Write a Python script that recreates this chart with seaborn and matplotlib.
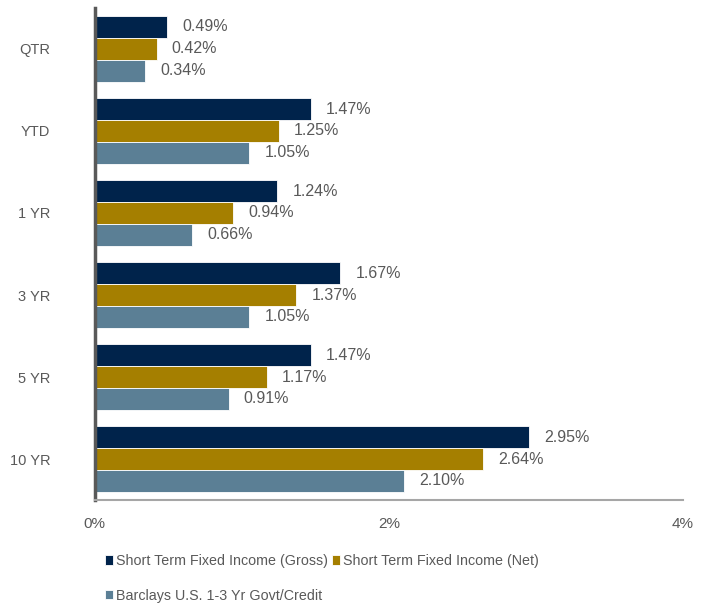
import numpy as np
import pandas as pd
import matplotlib
matplotlib.use('Agg')
import matplotlib.pyplot as plt
import seaborn as sns

periods = ['QTR', 'YTD', '1 YR', '3 YR', '5 YR', '10 YR']
series = ['Short Term Fixed Income (Gross)', 'Short Term Fixed Income (Net)',
          'Barclays U.S. 1-3 Yr Govt/Credit']
gross = [0.49, 1.47, 1.24, 1.67, 1.47, 2.95]
net = [0.42, 1.25, 0.94, 1.37, 1.17, 2.64]
bench = [0.34, 1.05, 0.66, 1.05, 0.91, 2.10]
colors = ['#00234B', '#A57F00', '#5B7F95']

df = pd.DataFrame({
    'period': periods * 3,
    'series': np.repeat(series, len(periods)),
    'value': gross + net + bench,
})

sns.set_style('white')
plt.rcParams['font.family'] = ['Liberation Sans', 'DejaVu Sans']
txt = '#595959'

fig = plt.figure(figsize=(7.07, 6.04), dpi=100)
ax = fig.add_axes([0.134, 0.172, 0.832, 0.815])

sns.barplot(data=df, x='value', y='period', hue='series', orient='h',
            palette=colors, order=periods, hue_order=series, width=0.8,
            saturation=1, edgecolor='white', linewidth=0.6, ax=ax)

for cont in ax.containers:
    for bar in cont:
        w = bar.get_width()
        ax.annotate(f'{w:.2f}%', (w, bar.get_y() + bar.get_height() / 2),
                    xytext=(11, 0), textcoords='offset points',
                    va='center', ha='left', fontsize=11.5, color=txt)

ax.set_xlim(0, 4)
ax.set_ylim(5.5, -0.5)
ax.set_xticks([0, 2, 4])
ax.set_xticklabels(['0%', '2%', '4%'])
ax.set_xlabel('')
ax.set_ylabel('')
ax.tick_params(axis='x', length=0, pad=12, labelsize=11, labelcolor=txt)
ax.tick_params(axis='y', length=0, pad=32, labelsize=10.5, labelcolor=txt)

sns.despine(ax=ax, top=True, right=True)
ax.spines['left'].set_color('#595959')
ax.spines['left'].set_linewidth(2.5)
ax.spines['bottom'].set_color('#A6A6A6')
ax.spines['bottom'].set_linewidth(1.5)

handles, labels = ax.get_legend_handles_labels()
ax.legend_.remove()
# column-wise fill: put Net in the second column of the first row
order = [0, 2, 1]
leg = fig.legend([handles[i] for i in order], [labels[i] for i in order],
                 ncol=2, loc='upper left',
                 bbox_to_anchor=(0.13, 0.104), frameon=False,
                 handlelength=0.6, handleheight=0.6, handletextpad=0.15,
                 columnspacing=0.3, labelspacing=1.45, prop={'size': 10.3})
for t in leg.get_texts():
    t.set_color(txt)

fig.savefig('out.png', dpi=100)
